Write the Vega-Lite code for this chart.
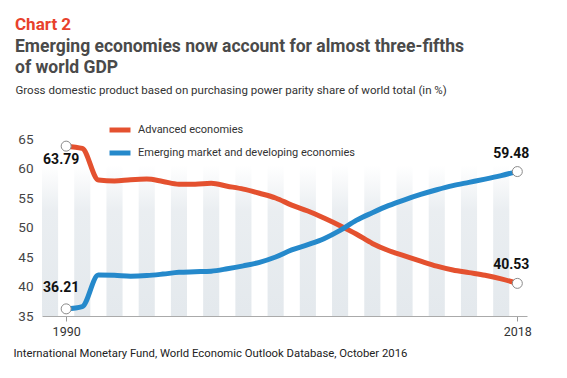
{
  "$schema": "https://vega.github.io/schema/vega-lite/v6.json",
  "autosize": "none",
  "width": 485,
  "height": 177,
  "padding": {"left": 42, "top": 139, "right": 40, "bottom": 62},
  "background": "#ffffff",
  "config": {
    "font": "Roboto, Liberation Sans, sans-serif",
    "view": {"stroke": null},
    "axisY": {"labelOverlap": false, "labelSeparation": 0, "labelBound": false}
  },
  "title": {
    "text": "Chart 2",
    "subtitle": ["Emerging economies now account for almost three-fifths", "of world GDP"],
    "anchor": "start",
    "frame": "group",
    "dx": -27,
    "offset": 7,
    "fontSize": 17,
    "fontWeight": "bold",
    "color": "#e8412c",
    "subtitleFontSize": 17.5,
    "subtitleFontWeight": "bold",
    "subtitleColor": "#4a4a4a",
    "subtitleLineHeight": 21,
    "subtitlePadding": 4
  },
  "datasets": {
    "gdp": [
      {"year": 1990, "series": "Advanced economies", "value": 63.79},
      {"year": 1991, "series": "Advanced economies", "value": 63.4},
      {"year": 1992, "series": "Advanced economies", "value": 58.05},
      {"year": 1993, "series": "Advanced economies", "value": 57.9},
      {"year": 1994, "series": "Advanced economies", "value": 58.1},
      {"year": 1995, "series": "Advanced economies", "value": 58.2},
      {"year": 1996, "series": "Advanced economies", "value": 57.8},
      {"year": 1997, "series": "Advanced economies", "value": 57.35},
      {"year": 1998, "series": "Advanced economies", "value": 57.35},
      {"year": 1999, "series": "Advanced economies", "value": 57.5},
      {"year": 2000, "series": "Advanced economies", "value": 57.0},
      {"year": 2001, "series": "Advanced economies", "value": 56.5},
      {"year": 2002, "series": "Advanced economies", "value": 55.8},
      {"year": 2003, "series": "Advanced economies", "value": 55.0},
      {"year": 2004, "series": "Advanced economies", "value": 53.8},
      {"year": 2005, "series": "Advanced economies", "value": 52.8},
      {"year": 2006, "series": "Advanced economies", "value": 51.6},
      {"year": 2007, "series": "Advanced economies", "value": 50.3},
      {"year": 2008, "series": "Advanced economies", "value": 48.9},
      {"year": 2009, "series": "Advanced economies", "value": 47.3},
      {"year": 2010, "series": "Advanced economies", "value": 46.1},
      {"year": 2011, "series": "Advanced economies", "value": 45.2},
      {"year": 2012, "series": "Advanced economies", "value": 44.3},
      {"year": 2013, "series": "Advanced economies", "value": 43.45},
      {"year": 2014, "series": "Advanced economies", "value": 42.8},
      {"year": 2015, "series": "Advanced economies", "value": 42.35},
      {"year": 2016, "series": "Advanced economies", "value": 41.9},
      {"year": 2017, "series": "Advanced economies", "value": 41.3},
      {"year": 2018, "series": "Advanced economies", "value": 40.53},
      {"year": 1990, "series": "Emerging market and developing economies", "value": 36.21},
      {"year": 1991, "series": "Emerging market and developing economies", "value": 36.6},
      {"year": 1992, "series": "Emerging market and developing economies", "value": 41.95},
      {"year": 1993, "series": "Emerging market and developing economies", "value": 41.9},
      {"year": 1994, "series": "Emerging market and developing economies", "value": 41.75},
      {"year": 1995, "series": "Emerging market and developing economies", "value": 41.85},
      {"year": 1996, "series": "Emerging market and developing economies", "value": 42.1},
      {"year": 1997, "series": "Emerging market and developing economies", "value": 42.4},
      {"year": 1998, "series": "Emerging market and developing economies", "value": 42.5},
      {"year": 1999, "series": "Emerging market and developing economies", "value": 42.6},
      {"year": 2000, "series": "Emerging market and developing economies", "value": 43.0},
      {"year": 2001, "series": "Emerging market and developing economies", "value": 43.5},
      {"year": 2002, "series": "Emerging market and developing economies", "value": 44.1},
      {"year": 2003, "series": "Emerging market and developing economies", "value": 45.0},
      {"year": 2004, "series": "Emerging market and developing economies", "value": 46.2},
      {"year": 2005, "series": "Emerging market and developing economies", "value": 47.1},
      {"year": 2006, "series": "Emerging market and developing economies", "value": 48.1},
      {"year": 2007, "series": "Emerging market and developing economies", "value": 49.5},
      {"year": 2008, "series": "Emerging market and developing economies", "value": 51.2},
      {"year": 2009, "series": "Emerging market and developing economies", "value": 52.5},
      {"year": 2010, "series": "Emerging market and developing economies", "value": 53.7},
      {"year": 2011, "series": "Emerging market and developing economies", "value": 54.7},
      {"year": 2012, "series": "Emerging market and developing economies", "value": 55.6},
      {"year": 2013, "series": "Emerging market and developing economies", "value": 56.4},
      {"year": 2014, "series": "Emerging market and developing economies", "value": 57.1},
      {"year": 2015, "series": "Emerging market and developing economies", "value": 57.65},
      {"year": 2016, "series": "Emerging market and developing economies", "value": 58.2},
      {"year": 2017, "series": "Emerging market and developing economies", "value": 58.8},
      {"year": 2018, "series": "Emerging market and developing economies", "value": 59.48}
    ],
    "bands": [
      {"start": 1988.5, "end": 1989.5},
      {"start": 1990.5, "end": 1991.5},
      {"start": 1992.5, "end": 1993.5},
      {"start": 1994.5, "end": 1995.5},
      {"start": 1996.5, "end": 1997.5},
      {"start": 1998.5, "end": 1999.5},
      {"start": 2000.5, "end": 2001.5},
      {"start": 2002.5, "end": 2003.5},
      {"start": 2004.5, "end": 2005.5},
      {"start": 2006.5, "end": 2007.5},
      {"start": 2008.5, "end": 2009.5},
      {"start": 2010.5, "end": 2011.5},
      {"start": 2012.5, "end": 2013.5},
      {"start": 2014.5, "end": 2015.5},
      {"start": 2016.5, "end": 2017.5}
    ]
  },
  "layer": [
    {
      "data": {"name": "bands"},
      "mark": {
        "type": "rect",
        "color": {
          "gradient": "linear", "x1": 0, "y1": 0, "x2": 0, "y2": 1,
          "stops": [
            {"offset": 0, "color": "rgba(190,202,212,0)"},
            {"offset": 0.3, "color": "rgba(190,202,212,0.32)"},
            {"offset": 1, "color": "rgba(190,202,212,0.42)"}
          ]
        }
      },
      "encoding": {
        "x": {"field": "start", "type": "quantitative", "scale": {"domain": [1988.5, 2018.6], "nice": false, "zero": false},
          "axis": {
            "values": [1990, 2018], "format": "d", "grid": false,
            "domainColor": "#aaaaaa", "tickColor": "#999999", "tickSize": 5,
            "labelFontSize": 12.5, "labelColor": "#333333", "labelPadding": 4,
            "title": "International Monetary Fund, World Economic Outlook Database, October 2016",
            "titleFontSize": 11.3, "titleFontWeight": "normal", "titleColor": "#222222",
            "titleAlign": "left", "titleBaseline": "alphabetic", "titleAnchor": "start",
            "titleX": -29, "titleY": 40
          }
        },
        "x2": {"field": "end"},
        "y": {"datum": 60.5, "type": "quantitative",
          "scale": {"domain": [35, 65], "nice": false, "zero": false},
          "axis": {
            "values": [35, 40, 45, 50, 55, 60, 65], "tickCount": 7, "domain": false, "ticks": false,
            "labelOverlap": false,
            "gridColor": "#e0e0e0", "gridWidth": 1,
            "labelFontSize": 13.5, "labelColor": "#444444", "labelPadding": 9,
            "title": "Gross domestic product based on purchasing power parity share of world total (in %)",
            "titleAngle": 0, "titleAlign": "left", "titleBaseline": "alphabetic",
            "titleX": -27, "titleY": -46, "titleFontSize": 11.5, "titleFontWeight": "normal", "titleColor": "#333333"
          }
        },
        "y2": {"datum": 35}
      }
    },
    {
      "data": {"name": "gdp"},
      "mark": {"type": "line", "strokeWidth": 5, "interpolate": "monotone", "strokeCap": "round", "strokeJoin": "round"},
      "encoding": {
        "x": {"field": "year", "type": "quantitative"},
        "y": {"field": "value", "type": "quantitative"},
        "color": {
          "field": "series", "type": "nominal",
          "scale": {"domain": ["Advanced economies", "Emerging market and developing economies"], "range": ["#e4512f", "#2589cb"]},
          "legend": {
            "orient": "none", "legendX": 65, "legendY": -22, "title": null,
            "symbolType": "stroke", "symbolStrokeWidth": 5, "symbolSize": 440,
            "labelFontSize": 11, "labelColor": "#333333", "labelOffset": 5, "labelLimit": 400,
            "rowPadding": 0, "padding": 0
          }
        }
      }
    },
    {
      "data": {"name": "gdp"},
      "transform": [{"filter": "datum.year == 1990 || datum.year == 2018"}],
      "mark": {"type": "point", "filled": true, "fill": "#ffffff", "stroke": "#8a8a8a", "strokeWidth": 1, "size": 100, "opacity": 1},
      "encoding": {
        "x": {"field": "year", "type": "quantitative"},
        "y": {"field": "value", "type": "quantitative"}
      }
    },
    {
      "data": {"name": "gdp"},
      "transform": [{"filter": "datum.year == 1990 && datum.series == 'Advanced economies'"}],
      "mark": {"type": "text", "fontWeight": "bold", "fontSize": 14, "color": "#111111", "align": "center", "baseline": "middle", "dx": -5, "dy": 14},
      "encoding": {
        "x": {"field": "year", "type": "quantitative"},
        "y": {"field": "value", "type": "quantitative"},
        "text": {"field": "value", "type": "quantitative", "format": ".2f"}
      }
    },
    {
      "data": {"name": "gdp"},
      "transform": [{"filter": "datum.year == 1990 && datum.series != 'Advanced economies'"}],
      "mark": {"type": "text", "fontWeight": "bold", "fontSize": 14, "color": "#111111", "align": "center", "baseline": "middle", "dx": -5, "dy": -21},
      "encoding": {
        "x": {"field": "year", "type": "quantitative"},
        "y": {"field": "value", "type": "quantitative"},
        "text": {"field": "value", "type": "quantitative", "format": ".2f"}
      }
    },
    {
      "data": {"name": "gdp"},
      "transform": [{"filter": "datum.year == 2018"}],
      "mark": {"type": "text", "fontWeight": "bold", "fontSize": 14, "color": "#111111", "align": "right", "baseline": "middle", "dx": 12, "dy": -18},
      "encoding": {
        "x": {"field": "year", "type": "quantitative"},
        "y": {"field": "value", "type": "quantitative"},
        "text": {"field": "value", "type": "quantitative", "format": ".2f"}
      }
    }
  ]
}
